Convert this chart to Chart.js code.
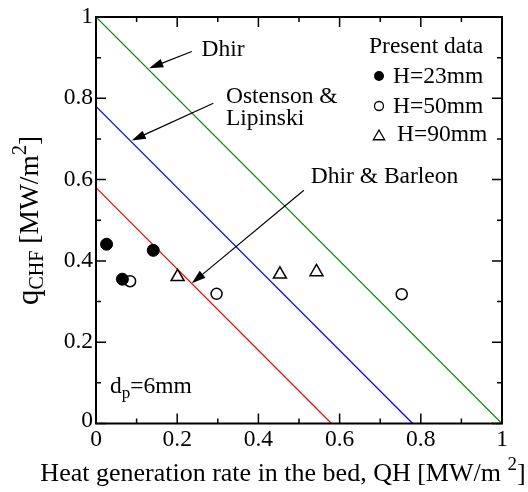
<!DOCTYPE html>
<html>
<head>
<meta charset="utf-8">
<script src="https://cdn.jsdelivr.net/npm/chart.js@4/dist/chart.umd.min.js"></script>
<style>
html,body{margin:0;padding:0;background:#fff;}
#wrap{width:528px;height:492px;position:relative;}
</style>
</head>
<body>
<div id="wrap"><canvas id="c" width="528" height="492"></canvas></div>
<script>
// ---- data ----
const xTickValues = [0, 0.2, 0.4, 0.6, 0.8, 1];
const yTickValues = [0, 0.2, 0.4, 0.6, 0.8, 1];
const xTickLabels = ['0', '0.2', '0.4', '0.6', '0.8', '1'];
const yTickLabels = ['0', '0.2', '0.4', '0.6', '0.8', '1'];

const dhirLine = [{x: 0, y: 1.0}, {x: 1.0, y: 0}];
const ostensonLine = [{x: 0, y: 0.78}, {x: 0.78, y: 0}];
const barleonLine = [{x: 0, y: 0.58}, {x: 0.58, y: 0}];

const h23 = [{x: 0.026, y: 0.441}, {x: 0.065, y: 0.355}, {x: 0.141, y: 0.426}];
const h50 = [{x: 0.084, y: 0.350}, {x: 0.297, y: 0.319}, {x: 0.753, y: 0.318}];
const h90 = [{x: 0.201, y: 0.361}, {x: 0.453, y: 0.367}, {x: 0.543, y: 0.373}];

const seriesLabels = ['H=23mm', 'H=50mm', 'H=90mm'];
const legendTitle = 'Present data';

// annotation texts and arrow endpoints (data coordinates)
const annotations = [
  {text: ['Dhir'], tx: 0.260, ty: 0.904, from: {x: 0.236, y: 0.915}, to: {x: 0.131, y: 0.874}},
  {text: ['Ostenson &', 'Lipinski'], tx: 0.320, ty: 0.788, from: {x: 0.289, y: 0.788}, to: {x: 0.088, y: 0.696}},
  {text: ['Dhir & Barleon'], tx: 0.529, ty: 0.592, from: {x: 0.512, y: 0.574}, to: {x: 0.236, y: 0.345}}
];

const FONT = '"Liberation Serif", "Times New Roman", serif';
const FS = 23.5;
Chart.defaults.font.family = FONT;

const overlay = {
  id: 'overlay',
  afterDraw(chart) {
    const ctx = chart.ctx;
    const xs = chart.scales.x, ys = chart.scales.y;
    const a = chart.chartArea;
    ctx.save();
    // frame
    ctx.strokeStyle = '#000';
    ctx.lineWidth = 2;
    ctx.strokeRect(a.left, a.top, a.right - a.left, a.bottom - a.top);
    // ticks (inward, all sides)
    ctx.lineWidth = 1.5;
    for (let i = 0; i <= 10; i++) {
      const v = i / 10;
      const len = (i % 2 === 0) ? 10 : 5;
      const px = xs.getPixelForValue(v);
      const py = ys.getPixelForValue(v);
      ctx.beginPath();
      ctx.moveTo(px, a.bottom); ctx.lineTo(px, a.bottom - len);
      ctx.moveTo(px, a.top); ctx.lineTo(px, a.top + len);
      ctx.moveTo(a.left, py); ctx.lineTo(a.left + len, py);
      ctx.moveTo(a.right, py); ctx.lineTo(a.right - len, py);
      ctx.stroke();
    }
    // tick labels
    ctx.fillStyle = '#000';
    ctx.font = FS + 'px ' + FONT;
    ctx.textAlign = 'center';
    ctx.textBaseline = 'top';
    xTickValues.forEach((v, i) => ctx.fillText(xTickLabels[i], xs.getPixelForValue(v), a.bottom + 5));
    ctx.textAlign = 'right';
    ctx.textBaseline = 'middle';
    yTickValues.forEach((v, i) => ctx.fillText(yTickLabels[i], a.left - 3, ys.getPixelForValue(v) + (v === 0 ? -3 : 0)));
    // arrows + texts
    ctx.textBaseline = 'alphabetic';
    ctx.textAlign = 'left';
    annotations.forEach(an => {
      const x1 = xs.getPixelForValue(an.from.x), y1 = ys.getPixelForValue(an.from.y);
      const x2 = xs.getPixelForValue(an.to.x), y2 = ys.getPixelForValue(an.to.y);
      const ang = Math.atan2(y2 - y1, x2 - x1);
      const hl = 14, hw = 4.5;
      ctx.lineWidth = 1.2;
      ctx.beginPath();
      ctx.moveTo(x1, y1);
      ctx.lineTo(x2 - Math.cos(ang) * hl * 0.8, y2 - Math.sin(ang) * hl * 0.8);
      ctx.stroke();
      ctx.beginPath();
      ctx.moveTo(x2, y2);
      ctx.lineTo(x2 - Math.cos(ang) * hl - Math.sin(ang) * hw, y2 - Math.sin(ang) * hl + Math.cos(ang) * hw);
      ctx.lineTo(x2 - Math.cos(ang) * hl + Math.sin(ang) * hw, y2 - Math.sin(ang) * hl - Math.cos(ang) * hw);
      ctx.closePath();
      ctx.fill();
      const tx = xs.getPixelForValue(an.tx), ty = ys.getPixelForValue(an.ty);
      an.text.forEach((t, i) => ctx.fillText(t, tx, ty + i * 22));
    });
    // d_p = 6mm
    {
      let x = 110, y = 393;
      ctx.font = FS + 'px ' + FONT;
      ctx.fillText('d', x, y); x += ctx.measureText('d').width;
      ctx.font = '17px ' + FONT;
      ctx.fillText('p', x, y + 5); x += ctx.measureText('p').width;
      ctx.font = FS + 'px ' + FONT;
      ctx.fillText('=6mm', x, y);
    }
    // legend
    ctx.font = FS + 'px ' + FONT;
    ctx.fillText(legendTitle, 369, 53);
    const ly = [76, 106, 135];
    const lx = 379;
    const tb = [83, 113, 141];
    const tx0 = [393, 393, 397];
    chart.data.datasets.slice(3).forEach((ds, i) => {
      ctx.lineWidth = 1.3;
      ctx.strokeStyle = '#000';
      ctx.fillStyle = '#000';
      ctx.beginPath();
      if (ds.pointStyle === 'triangle') {
        const r = 6.5, cy = ly[i] + 1.5;
        ctx.moveTo(lx, cy - r);
        ctx.lineTo(lx + r * 0.866, cy + r / 2);
        ctx.lineTo(lx - r * 0.866, cy + r / 2);
        ctx.closePath();
        ctx.stroke();
      } else {
        ctx.arc(lx, ly[i], i === 0 ? 5 : 4.5, 0, Math.PI * 2);
        if (i === 0) ctx.fill(); else ctx.stroke();
      }
      ctx.fillStyle = '#000';
      ctx.fillText(ds.label, tx0[i], tb[i]);
    });
    // x axis title
    {
      const parts = [['Heat generation rate in the bed, QH [MW/m ', 26, 0], ['2', 19, -11], [']', 26, 0]];
      let w = 0;
      parts.forEach(p => { ctx.font = p[1] + 'px ' + FONT; w += ctx.measureText(p[0]).width; });
      let x = 283 - w / 2;
      const y = 481;
      parts.forEach(p => { ctx.font = p[1] + 'px ' + FONT; ctx.fillText(p[0], x, y + p[2]); x += ctx.measureText(p[0]).width; });
    }
    // y axis title (rotated)
    {
      ctx.save();
      ctx.translate(38, 305);
      ctx.rotate(-Math.PI / 2);
      const parts = [['q', 31, 0], ['CHF', 20, 5], [' [MW/m', 27.5, 0], ['2', 20, -12], [']', 27.5, 0]];
      let x = 0;
      parts.forEach(p => { ctx.font = p[1] + 'px ' + FONT; ctx.fillText(p[0], x, p[2]); x += ctx.measureText(p[0]).width; });
      ctx.restore();
    }
    ctx.restore();
  }
};

new Chart(document.getElementById('c'), {
  type: 'scatter',
  data: {
    datasets: [
      {label: 'Dhir', data: dhirLine, showLine: true, borderColor: '#008000', borderWidth: 1.2, pointRadius: 0, order: 5},
      {label: 'Ostenson & Lipinski', data: ostensonLine, showLine: true, borderColor: '#0000ff', borderWidth: 1.2, pointRadius: 0, order: 5},
      {label: 'Dhir & Barleon', data: barleonLine, showLine: true, borderColor: '#ff0000', borderWidth: 1.2, pointRadius: 0, order: 5},
      {label: seriesLabels[0], data: h23, pointStyle: 'circle', pointRadius: 6, backgroundColor: '#000', borderColor: '#000', borderWidth: 1, order: 1},
      {label: seriesLabels[1], data: h50, pointStyle: 'circle', pointRadius: 5.5, backgroundColor: '#fff', borderColor: '#000', borderWidth: 1.5, order: 1},
      {label: seriesLabels[2], data: h90, pointStyle: 'triangle', pointRadius: 7.5, backgroundColor: '#fff', borderColor: '#000', borderWidth: 1.5, order: 1}
    ]
  },
  options: {
    responsive: false,
    animation: false,
    events: [],
    layout: {padding: {top: 17, right: 26, left: 0, bottom: 0}},
    plugins: {legend: {display: false}, tooltip: {enabled: false}},
    scales: {
      x: {
        type: 'linear', min: 0, max: 1,
        afterFit(s) { s.height = 68.5; },
        afterBuildTicks(s) { s.ticks = xTickValues.map(v => ({value: v})); },
        grid: {display: false, drawTicks: false},
        border: {display: false},
        ticks: {display: false}
      },
      y: {
        type: 'linear', min: 0, max: 1,
        afterFit(s) { s.width = 96; },
        afterBuildTicks(s) { s.ticks = yTickValues.map(v => ({value: v})); },
        grid: {display: false, drawTicks: false},
        border: {display: false},
        ticks: {display: false}
      }
    }
  },
  plugins: [overlay]
});
</script>
</body>
</html>
